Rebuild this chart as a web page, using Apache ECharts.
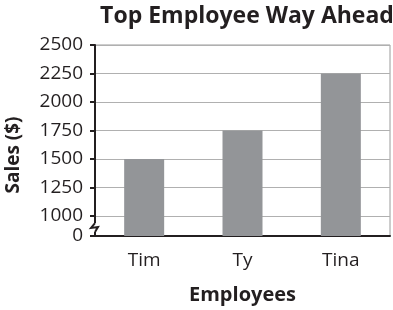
<!DOCTYPE html>
<html><head><meta charset="utf-8">
<script src="https://cdn.jsdelivr.net/npm/echarts@6/dist/echarts.min.js"></script>
<style>html,body{margin:0;padding:0;background:#fff}#c{width:393px;height:310px}</style>
</head><body><div id="c"></div>
<script>
const categories = ['Tim', 'Ty', 'Tina'];
const sales = [1500, 1750, 2250];
const yTickValues = [0, 1000, 1250, 1500, 1750, 2000, 2250, 2500];
const titleText = 'Top Employee Way Ahead';
const xName = 'Employees';
const yName = 'Sales ($)';

// broken axis: 0..1000 compressed into a short stretch
const BREAK_LOW = 1000;
const BREAK_FLOOR = 825;
function toAxis(v) { return v >= BREAK_LOW ? v : BREAK_FLOOR + v * (BREAK_LOW - BREAK_FLOOR) / BREAK_LOW; }
function fromAxis(a) { return a >= BREAK_LOW ? a : (a - BREAK_FLOOR) * BREAK_LOW / (BREAK_LOW - BREAK_FLOOR); }

const FONT = 'Open Sans';
const chart = echarts.init(document.getElementById('c'), null, { renderer: 'canvas' });
const tickAxisVals = yTickValues.map(toAxis);

chart.setOption({
  animation: false,
  backgroundColor: '#fff',
  textStyle: { fontFamily: FONT },
  title: {
    text: titleText, left: 242, top: 0, textAlign: 'center',
    textStyle: { fontFamily: FONT, fontWeight: 'bold', fontSize: 23, color: '#231f20' }
  },
  grid: { left: 95, right: 3, top: 45, bottom: 73, show: true, borderColor: '#9a9a9a', borderWidth: 1 },
  xAxis: {
    type: 'category', data: categories,
    axisLine: { lineStyle: { color: '#231f20', width: 2 } },
    axisTick: { show: false },
    axisLabel: { fontFamily: FONT, fontSize: 19, color: '#231f20', margin: 15 },
    name: xName, nameLocation: 'middle', nameGap: 49,
    nameTextStyle: { fontFamily: FONT, fontWeight: 'bold', fontSize: 20, color: '#231f20' }
  },
  yAxis: {
    type: 'value', min: toAxis(0), max: 2500,
    axisLine: { show: true, lineStyle: { color: '#231f20', width: 2 } },
    axisTick: { show: true, length: 5, customValues: tickAxisVals, lineStyle: { color: '#231f20', width: 2 } },
    axisLabel: {
      customValues: tickAxisVals, fontFamily: FONT, fontSize: 19, color: '#231f20', margin: 12,
      formatter: v => String(Math.round(fromAxis(v)))
    },
    splitLine: { show: true, lineStyle: { color: '#b0b0b0', width: 1 } }
  },
  series: [{
    type: 'bar', data: sales.map(toAxis), barWidth: 40,
    itemStyle: { color: '#939598' }
  }]
});

const x0 = 95;
const yTop = chart.convertToPixel({ yAxisIndex: 0 }, toAxis(BREAK_LOW));
const yBot = chart.convertToPixel({ yAxisIndex: 0 }, toAxis(0));
const g1 = yTop + (yBot - yTop) * 0.35, g2 = yTop + (yBot - yTop) * 0.8;
chart.setOption({
  graphic: [
    { type: 'rect', shape: { x: x0 - 3, y: g1, width: 6, height: g2 - g1 }, style: { fill: '#fff' }, z: 100 },
    { type: 'polyline', shape: { points: [[x0, g1], [x0 - 4, g1 + (g2 - g1) * 0.55], [x0 + 3, g1 + (g2 - g1) * 0.45], [x0, g2]] },
      style: { stroke: '#231f20', lineWidth: 2, fill: null }, z: 101 },
    { type: 'text', rotation: Math.PI / 2, x: 14, y: 155,
      style: { text: yName, fontFamily: FONT, fontWeight: 'bold', fontSize: 19, fill: '#231f20', align: 'center', verticalAlign: 'middle' }, z: 100 }
  ]
});
</script></body></html>
